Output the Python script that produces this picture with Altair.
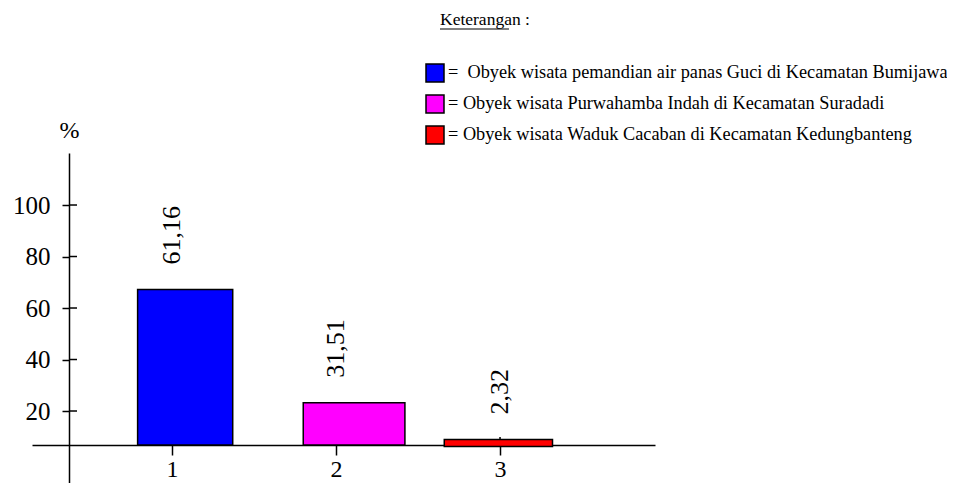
import altair as alt
import pandas as pd

# ---- data ----
kategori = [1, 2, 3]
kiri_batang = [0.79, 1.80, 2.66]       # bar left edges (category units)
kanan_batang = [1.37, 2.42, 3.32]      # bar right edges (category units)
puncak_batang = [67.2, 23.2, 8.9]      # bar tops as drawn (in % axis units)
dasar_batang = [6.8, 6.8, 6.2]         # bar bottoms as drawn
label_persen = ["61,16", "31,51", "2,32"]
keterangan = [
    "=\u00a0 Obyek wisata pemandian air panas Guci di Kecamatan Bumijawa",
    "= Obyek wisata Purwahamba Indah di Kecamatan Suradadi",
    "= Obyek wisata Waduk Cacaban di Kecamatan Kedungbanteng",
]
warna = ["#0000FF", "#FF00FF", "#FF0000"]
y_ticks = [20, 40, 60, 80, 100]
judul_legenda = ["Keterangan :"]
satuan = "%"

FONT = "Liberation Serif"
W, H = 623, 330
Y_DOM = [-7.96, 120.2]
X_DOM = [0.146, 3.945]

df = pd.DataFrame({
    "kategori": kategori,
    "kiri": kiri_batang,
    "kanan": kanan_batang,
    "puncak": puncak_batang,
    "dasar": dasar_batang,
    "label": label_persen,
    "ket": keterangan,
})

xs = alt.Scale(domain=X_DOM, nice=False, zero=False)
ys = alt.Scale(domain=Y_DOM, nice=False, zero=False)

x_axis = alt.Axis(values=kategori, format="d", orient="bottom", offset=-38,
                  grid=False, tickSize=10, tickColor="black", tickWidth=1.5,
                  domainColor="black", domainWidth=1.5, labelPadding=2,
                  labelFont=FONT, labelFontSize=24, labelColor="black",
                  title=None)
y_axis = alt.Axis(values=y_ticks, orient="left", offset=-37, grid=False,
                  tickSize=7, tickColor="black", tickWidth=1.5,
                  domainColor="black", domainWidth=1.5, labelPadding=12,
                  labelFont=FONT, labelFontSize=25, labelColor="black",
                  title=satuan, titleAngle=0, titleX=0, titleY=-23,
                  titleAlign="center", titleBaseline="middle",
                  titleFont=FONT, titleFontSize=24, titleFontWeight="normal",
                  titleColor="black")

base = alt.Chart(df)

# small upward part of the x ticks (visible above the short bar)
x_tick_up = base.mark_rule(color="black", strokeWidth=1.5).encode(
    x=alt.X("kategori:Q", scale=xs, axis=x_axis),
    y=alt.value(284),
    y2=alt.value(292),
)

bars = base.mark_bar(stroke="black", strokeWidth=1.5).encode(
    x=alt.X("kiri:Q", scale=xs, axis=x_axis),
    x2="kanan:Q",
    y=alt.Y("puncak:Q", scale=ys, axis=y_axis),
    y2="dasar:Q",
    color=alt.Color(
        "ket:N",
        scale=alt.Scale(domain=keterangan, range=warna),
        legend=alt.Legend(
            orient="none", legendX=393, legendY=-90, title=None,
            symbolType="square", symbolSize=324, symbolStrokeColor="black",
            symbolStrokeWidth=1.5, symbolOpacity=1,
            labelFont=FONT, labelFontSize=18.3, labelColor="black",
            labelLimit=800, labelOffset=3, rowPadding=7, padding=0,
        ),
    ),
)

# inner part of the y ticks (crossing the axis)
y_tick_in = alt.Chart(pd.DataFrame({"t": y_ticks})).mark_rule(
    color="black", strokeWidth=1.5
).encode(
    y=alt.Y("t:Q", scale=ys, axis=y_axis),
    x=alt.value(37),
    x2=alt.value(45),
)

labels = base.mark_text(
    angle=270, align="left", baseline="middle", dx=25,
    font=FONT, fontSize=26, color="black",
).encode(
    x=alt.X("kategori:Q", scale=xs, axis=x_axis),
    y=alt.Y("puncak:Q", scale=ys, axis=y_axis),
    text="label:N",
)

title_df = pd.DataFrame({"judul": judul_legenda})
title_text = alt.Chart(title_df).mark_text(
    align="left", baseline="middle", font=FONT, fontSize=17.5, color="black",
).encode(
    x=alt.value(408), y=alt.value(-133), text="judul:N",
)
underline = alt.Chart(title_df).mark_rule(color="black", strokeWidth=1.2).encode(
    x=alt.value(408), x2=alt.value(477), y=alt.value(-124),
)

chart = alt.layer(
    x_tick_up, bars, y_tick_in, labels, title_text, underline
).properties(
    width=W, height=H,
    autosize=alt.AutoSizeParams(type="none"),
    padding={"left": 24, "top": 145, "right": 292, "bottom": 0},
).configure_view(stroke=None)

chart.save("out.html", embed_options={"renderer": "svg", "actions": False})
